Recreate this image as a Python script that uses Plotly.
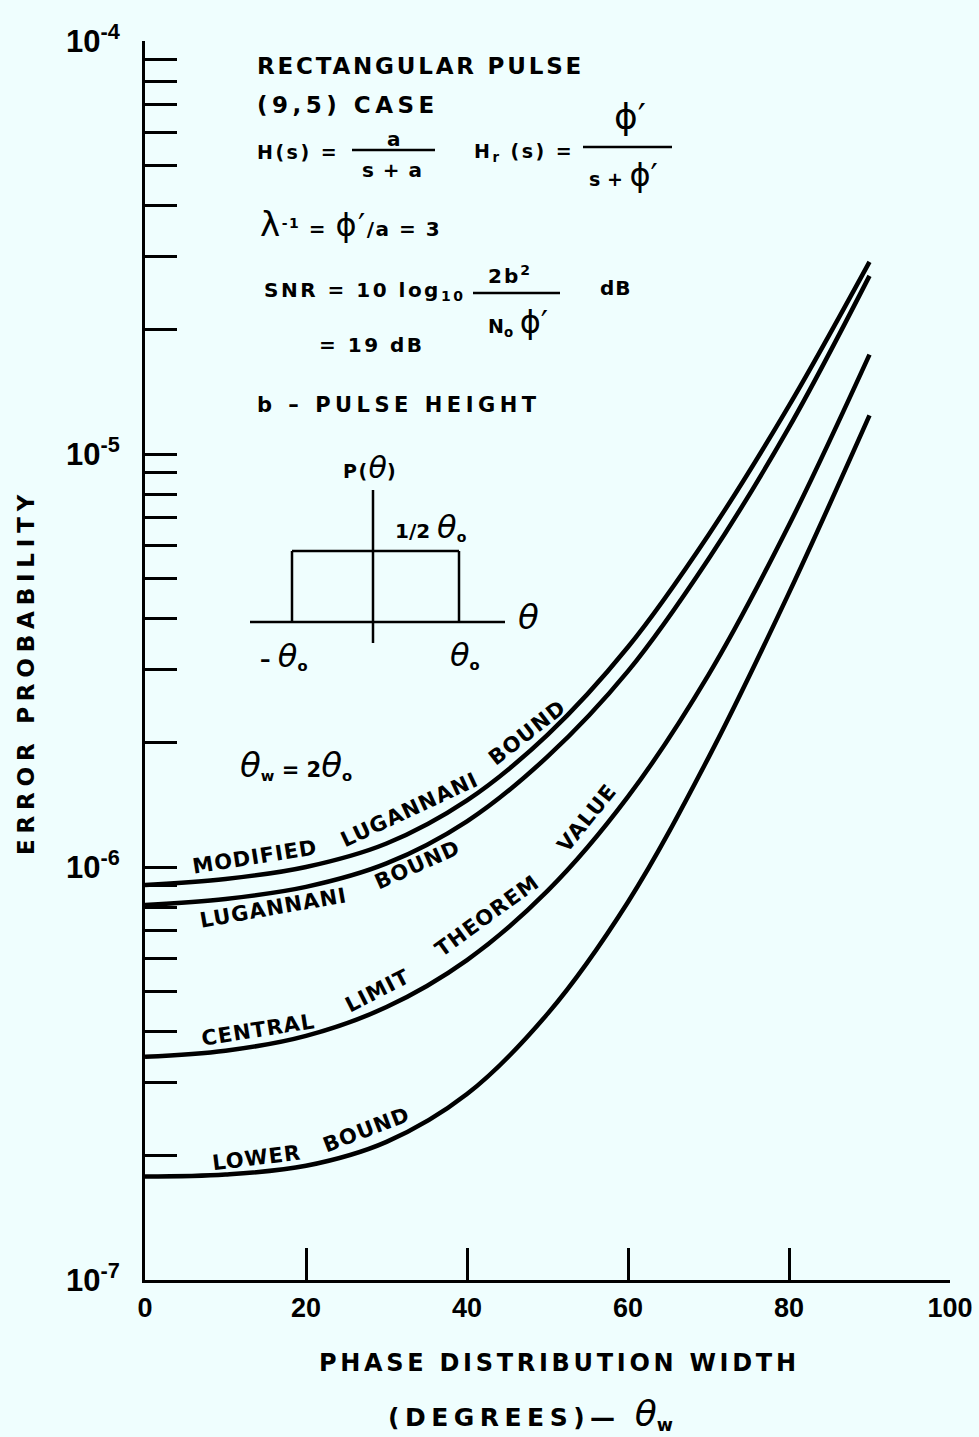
import plotly.graph_objects as go

# Phase distribution width theta_w (degrees)
theta_w = [0, 10, 20, 30, 40, 50, 60, 70, 80, 90]

# Error probability for the (9,5) rectangular-pulse case
modified_lugannani = [9.04e-7, 9.35e-7, 1.00e-6, 1.14e-6, 1.45e-6, 2.09e-6, 3.41e-6, 6.37e-6, 1.31e-5, 2.92e-5]
lugannani = [8.09e-7, 8.37e-7, 8.95e-7, 1.02e-6, 1.29e-6, 1.85e-6, 2.98e-6, 5.57e-6, 1.16e-5, 2.70e-5]
central_limit = [3.47e-7, 3.59e-7, 3.90e-7, 4.58e-7, 5.95e-7, 8.75e-7, 1.48e-6, 2.92e-6, 6.73e-6, 1.74e-5]
lower_bound = [1.78e-7, 1.80e-7, 1.89e-7, 2.16e-7, 2.82e-7, 4.41e-7, 8.23e-7, 1.84e-6, 4.61e-6, 1.24e-5]

x_tick_vals = [0, 20, 40, 60, 80, 100]
x_tick_text = ["0", "20", "40", "60", "80", "100"]
decades = [-7, -6, -5, -4]

BG = "#EFFEFE"
INK = "#000000"
TEXT_FONT = "DejaVu Sans, Liberation Sans, sans-serif"
NUM_FONT = "Liberation Sans, Arial, sans-serif"

W, H = 979, 1437
ML, MR, MT, MB = 145, 29, 41, 157
PW = W - ML - MR
PH = H - MT - MB


def fx(px):
    return (px - ML) / PW


def fy(py):
    return (H - MB - py) / PH


fig = go.Figure()
for series in (modified_lugannani, lugannani, central_limit, lower_bound):
    fig.add_trace(go.Scatter(
        x=theta_w, y=series, mode="lines",
        line=dict(color=INK, width=4.5, shape="spline", smoothing=1.0),
        hoverinfo="skip", showlegend=False,
    ))

# log-axis ticks: labelled decades, 2..9 as unlabelled minor ticks
y_tick_vals = [10.0 ** d for d in decades]
y_tick_text = [f"<b>10<sup>{d}</sup></b>" for d in decades]
y_minor_vals = [m * 10.0 ** d for d in decades[:-1] for m in range(2, 10)]


def note(text, x, y, size=20, angle=0, xanchor="center", spacing=0, bold=True, family=TEXT_FONT):
    body = text
    if spacing:
        body = f'<span style="letter-spacing:{spacing}px">{body}</span>'
    if bold:
        body = f"<b>{body}</b>"
    fig.add_annotation(
        x=fx(x), y=fy(y), xref="paper", yref="paper", text=body, showarrow=False,
        font=dict(family=family, size=size, color=INK), textangle=angle,
        xanchor=xanchor, yanchor="middle",
    )


def seg(x0, y0, x1, y1, width=2.5):
    fig.add_shape(type="line", xref="paper", yref="paper",
                  x0=fx(x0), y0=fy(y0), x1=fx(x1), y1=fy(y1),
                  line=dict(color=INK, width=width))


def greek(ch, size):
    return (f'<span style="font-weight:normal;font-style:italic;letter-spacing:0px;'
            f'font-size:{size}px">{ch}</span>')


PHI = '<span style="font-weight:normal;font-size:36px">ϕ′</span>'
PHI_S = '<span style="font-weight:normal;font-size:32px">ϕ′</span>'

# parameter block
note("RECTANGULAR PULSE", 255, 66, size=23, xanchor="left", spacing=2.8)
note("(9,5) CASE", 255, 105, size=23, xanchor="left", spacing=4.5)
note("H(s) =", 255, 152, size=19, xanchor="left", spacing=2.5)
note("a", 394, 139, size=20)
seg(352, 150, 435, 150)
note("s + a", 392, 170, size=20, spacing=1)
note("H<sub>r</sub> (s) =", 472, 152, size=19, xanchor="left", spacing=2.5)
note(PHI, 630, 117, size=18)
seg(583, 147, 672, 147)
note("s + " + PHI_S, 623, 175, size=19)
note('<span style="font-weight:normal;font-size:34px">λ</span><sup>-1</sup> = ' + PHI_S + "/a = 3",
     258, 224, size=20, xanchor="left", spacing=1.5)
note("SNR = 10 log<sub>10</sub>", 262, 291, size=20, xanchor="left", spacing=2.5)
note("2b<sup>2</sup>", 510, 275, size=20, spacing=2)
seg(473, 293, 560, 293)
note("N<sub>o</sub> " + PHI_S, 518, 322, size=19)
note("dB", 616, 288, size=20, spacing=1)
note("= 19 dB", 372, 345, size=20, spacing=2.5)
note("b – PULSE HEIGHT", 255, 405, size=21, xanchor="left", spacing=4.5)

# inset: uniform phase density p(theta)
note("P(" + greek("θ", 30) + ")", 370, 467, size=19, spacing=1.5)
seg(373, 490, 373, 643)
seg(250, 622, 505, 622)
seg(292, 622, 292, 551)
seg(292, 551, 459, 551)
seg(459, 551, 459, 622)
note("1/2 " + greek("θ", 32) + "<sub>o</sub>", 431, 527, size=20)
note(greek("θ", 34), 528, 617, size=20)
note("– " + greek("θ", 32) + "<sub>o</sub>", 283, 656, size=21)
note(greek("θ", 32) + "<sub>o</sub>", 465, 655, size=21)
note(greek("θ", 34) + "<sub>w</sub> = 2" + greek("θ", 34) + "<sub>o</sub>", 296, 765, size=21)

# curve labels set along each line
curve_labels = [
    ("MODIFIED", 255, 857, -9), ("LUGANNANI", 409, 810, -25), ("BOUND", 527, 733, -38),
    ("LUGANNANI", 273, 908, -10), ("BOUND", 417, 865, -24),
    ("CENTRAL", 258, 1030, -9), ("LIMIT", 377, 991, -27), ("THEOREM", 487, 916, -36), ("VALUE", 587, 818, -51),
    ("LOWER", 256, 1158, -7), ("BOUND", 366, 1130, -21),
]
for word, cx, cy, ang in curve_labels:
    note(word, cx, cy, size=21, angle=ang, spacing=1)

# axis titles
note("ERROR PROBABILITY", 26, 672, size=23, angle=-90, spacing=5.8)
note("PHASE DISTRIBUTION WIDTH", 559, 1363, size=24, spacing=3.7)
note("(DEGREES)— " + greek("θ", 36) + "<sub>w</sub>", 533, 1414, size=25, spacing=5.5)

fig.update_xaxes(
    range=[0, 100], showgrid=False, zeroline=False, showline=True, linecolor=INK, linewidth=3,
    ticks="inside", ticklen=32, tickwidth=2.5, tickcolor=INK,
    tickvals=x_tick_vals, ticktext=[f"<b>{t}</b>" for t in x_tick_text], ticklabelstandoff=2,
    tickfont=dict(family=NUM_FONT, size=27, color=INK),
)
fig.update_yaxes(
    type="log", range=[-7, -4], showgrid=False, zeroline=False, showline=True, linecolor=INK, linewidth=3,
    ticks="inside", ticklen=32, tickwidth=2.5, tickcolor=INK,
    tickvals=y_tick_vals, ticktext=y_tick_text, ticklabelstandoff=16,
    tickfont=dict(family=NUM_FONT, size=31, color=INK),
    minor=dict(tickmode="array", tickvals=y_minor_vals, ticks="inside", ticklen=32,
               tickwidth=2.5, tickcolor=INK, showgrid=False),
)
fig.update_layout(
    width=W, height=H, autosize=False,
    margin=dict(l=ML, r=MR, t=MT, b=MB, autoexpand=False),
    paper_bgcolor=BG, plot_bgcolor=BG, showlegend=False,
)

fig.write_html("out.html")
